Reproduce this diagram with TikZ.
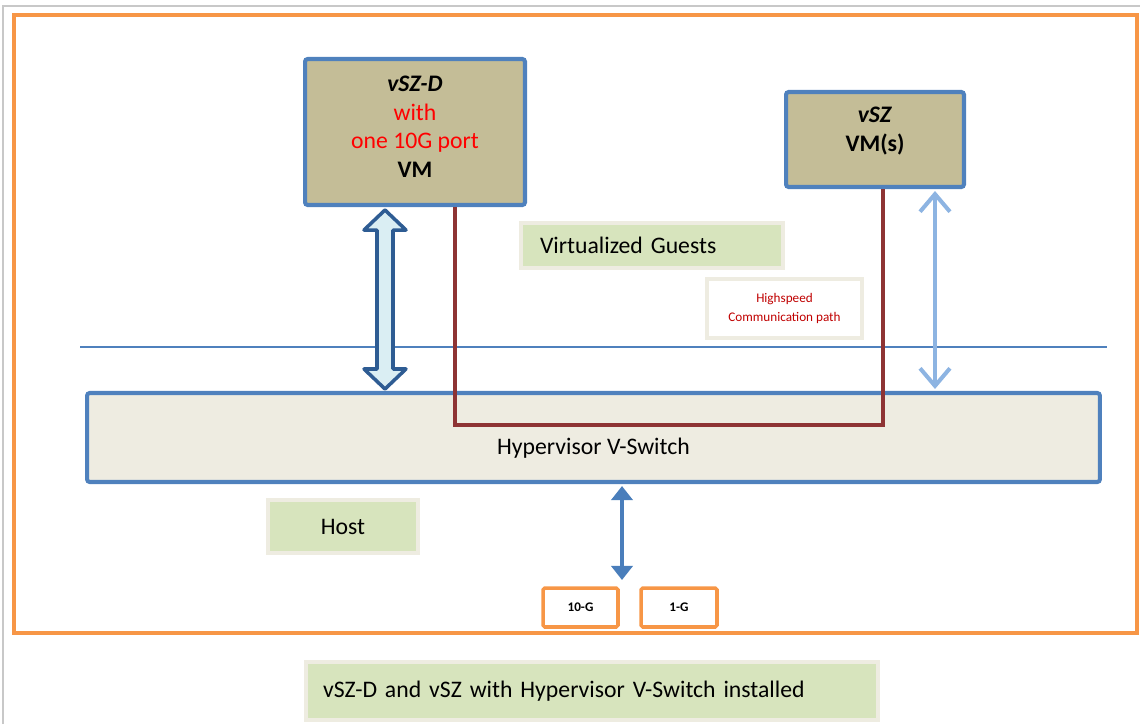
\documentclass[tikz,border=0pt]{standalone}
\usepackage{fontspec}
\setmainfont{Carlito}
\usepackage{xcolor}
\usetikzlibrary{arrows.meta, calc}

\definecolor{framegray}{HTML}{C8C8C8}
\definecolor{frameorange}{HTML}{F79646}
\definecolor{boxblue}{HTML}{4F81BD}
\definecolor{vmtan}{HTML}{C4BD97}
\definecolor{tagbeige}{HTML}{EEECE1}
\definecolor{taggreen}{HTML}{D7E4BD}
\definecolor{textred}{HTML}{FF0000}
\definecolor{hsred}{HTML}{C00000}
\definecolor{hsdark}{HTML}{8E3434}
\definecolor{hollowblue}{HTML}{2E5C93}
\definecolor{hollowfill}{HTML}{DAEEF3}
\definecolor{lightarrow}{HTML}{8DB4E2}
\definecolor{upblue}{HTML}{4A7EBB}

\begin{document}
\begin{tikzpicture}[x=0.02cm, y=-0.02cm,
  vmbox/.style={draw=boxblue, fill=vmtan, line width=2.3pt, rounded corners=1.5pt, align=center, font=\fontsize{13.5}{16.5}\selectfont},
  tagbox/.style={draw=tagbeige, fill=taggreen, line width=2pt, font=\fontsize{13.5}{16.5}\selectfont},
  portbox/.style={draw=frameorange, fill=white, line width=2pt, rounded corners=1pt, minimum width=1.5cm, minimum height=0.78cm, font=\fontsize{7.5}{9}\selectfont\bfseries}]
\useasboundingbox (0,0) rectangle (1140,724);
\draw[framegray, line width=0.9pt] (3,724) -- (3,6) -- (1140,6);
\draw[frameorange, line width=2.3pt] (14,15) rectangle (1137,633);
\draw[boxblue, line width=0.7pt] (80,347) -- (1107,347);
\node[vmbox, minimum width=4.4cm, minimum height=2.92cm, text depth=6pt] (vszd) at (415,132) {\textbf{\textit{vSZ-D}}\\\textcolor{textred}{with}\\\textcolor{textred}{one 10G port}\\\textbf{VM}};
\node[vmbox, minimum width=3.56cm, minimum height=1.9cm, text depth=12pt] (vsz) at (875,139.5) {\textbf{\textit{vSZ}}\\\textbf{VM(s)}};
\node[tagbox, minimum height=0.9cm, inner xsep=0.38cm, text width=4.48cm, align=left] (guests) at (652,245.5) {Virtualized Guests};
\node[draw=tagbeige, fill=white, line width=2pt, minimum width=3.1cm, minimum height=1.18cm, align=center, text=hsred, font=\fontsize{7.5}{10.8}\selectfont] (hspath) at (784.5,308.5) {Highspeed\\Communication path};
\node[draw=boxblue, fill=tagbeige, line width=2.3pt, rounded corners=1.5pt, minimum width=20.26cm, minimum height=1.78cm, text height=19.5pt, text depth=0pt, font=\fontsize{13.5}{16.5}\selectfont] (vsw) at (593.5,437.5) {Hypervisor V-Switch};
\node[tagbox, minimum width=3cm, minimum height=1.06cm] (host) at (343,526.5) {Host};
\node[portbox] (p10) at (580.5,607.5) {10-G};
\node[portbox, minimum width=1.52cm] (p1) at (679,607.5) {1-G};
\node[tagbox, minimum height=1.16cm, inner xsep=0.34cm, text width=10.76cm, align=left] (caption) at (592,691) {vSZ-D and vSZ with Hypervisor V-Switch installed};
\coordinate (hsa) at (455,425);
\coordinate (hsb) at (883,425);
\draw[hsdark, line width=1.9pt] (vszd.south -| hsa) -- (hsa) -- (hsb) -- (vsz.south -| hsb);
\coordinate (ga) at (385,0);
\coordinate (gtop) at ($(vszd.south -| ga)+(0,3)$);
\coordinate (gbot) at ($(vsw.north -| ga)+(0,-2)$);
\draw[hollowblue, fill=hollowfill, line width=2pt, line join=round] (gtop) -- ($(gtop)+(21,20)$) -- ($(gtop)+(8,20)$) -- ($(gbot)+(8,-20)$) -- ($(gbot)+(21,-20)$) -- (gbot) -- ($(gbot)+(-21,-20)$) -- ($(gbot)+(-8,-20)$) -- ($(gtop)+(-8,20)$) -- ($(gtop)+(-21,20)$) -- cycle;
\coordinate (lb) at (935,0);
\draw[lightarrow, line width=2.3pt, {Straight Barb[length=10pt,width=17pt]}-{Straight Barb[length=10pt,width=17pt]}] ($(vsz.south -| lb)+(0,2)$) -- ($(vsw.north -| lb)+(0,-2)$);
\coordinate (uplink) at (622,580);
\draw[upblue, line width=2.3pt, {Triangle[length=8pt,width=12pt]}-{Triangle[length=8pt,width=12pt]}] ($(vsw.south -| uplink)+(0,2)$) -- (uplink);
\end{tikzpicture}
\end{document}
